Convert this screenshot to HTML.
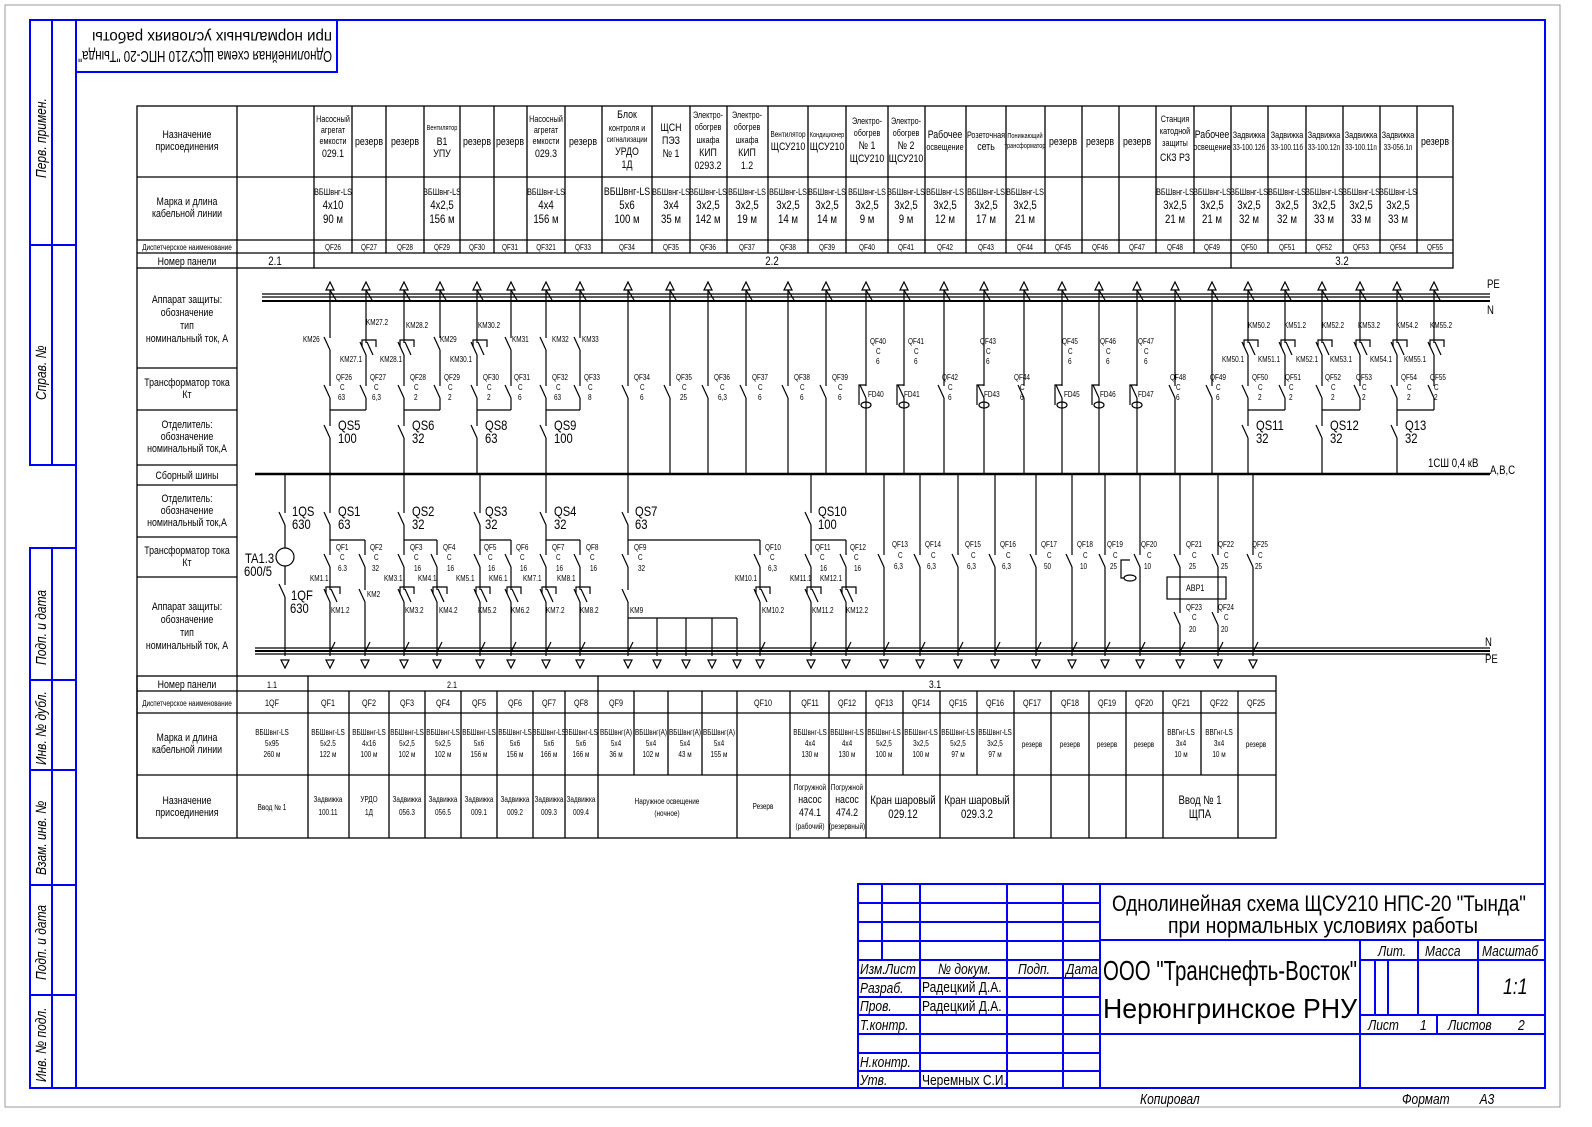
<!DOCTYPE html>
<html><head><meta charset="utf-8"><style>
html,body{margin:0;padding:0;background:#fff}
svg{display:block}
text{font-family:"Liberation Sans",sans-serif;fill:#000}
.c{text-anchor:middle}
.bl{stroke:#0000ff;stroke-width:2;fill:none}
</style></head><body>
<svg id="sv" width="1592" height="1127" viewBox="0 0 1592 1127" xmlns="http://www.w3.org/2000/svg">
<rect width="1592" height="1127" fill="#fff"/>
<rect x="5" y="5" width="1555" height="1102" fill="none" stroke="#999" stroke-width="1"/>
<rect class="bl" x="76" y="20" width="1469" height="1068"/>
<rect class="bl" x="30" y="20" width="46" height="445"/>
<rect class="bl" x="30" y="548" width="46" height="540"/>
<path class="bl" d="M52 20V465M52 548V1088M30 245H76M30 680H76M30 770H76M30 885H76M30 995H76"/>
<rect class="bl" x="76" y="20" width="261" height="52"/>
<g font-style="italic" font-size="15">
<text transform="translate(46,178) rotate(-90)">Перв. примен.</text>
<text transform="translate(46,400) rotate(-90)">Справ. №</text>
<text transform="translate(46,665) rotate(-90)">Подп. и дата</text>
<text transform="translate(46,765) rotate(-90)">Инв. № дубл.</text>
<text transform="translate(46,875) rotate(-90)">Взам. инв. №</text>
<text transform="translate(46,980) rotate(-90)">Подп. и дата</text>
<text transform="translate(46,1082) rotate(-90)">Инв. № подл.</text>
</g>
<g transform="rotate(180,206,46)" font-size="16">
<text x="80" y="41" textLength="254" lengthAdjust="spacingAndGlyphs">Однолинейная схема ЩСУ210 НПС-20 "Тында"</text>
<text x="80" y="60" textLength="240" lengthAdjust="spacingAndGlyphs">при нормальных условиях работы</text>
</g>
<text x="1140" y="1104" font-size="15" font-style="italic">Копировал</text>
<text x="1402" y="1104" font-size="15" font-style="italic">Формат&#160;&#160;&#160;&#160;&#160;&#160;&#160;&#160;&#160;А3</text>

<g class="bl">
<rect x="858" y="884" width="687" height="204"/>
<path d="M882 884V960M920 884V1088M1007 884V1088M1063 884V1088M1100 884V1088M858 903H1100M858 922H1100M858 941H1100M858 960H1100M858 978H1100M858 997H1100M858 1015H1100M858 1034H1100M858 1053H1100M858 1071H1100"/>
<path d="M1100 940H1545M1360 940V1088M1100 1034H1545M1360 960H1545M1360 1015H1545M1418 940V1015M1478 940V1015M1437 1015V1034M1375 960V1015M1388 960V1015"/>
</g>
<g font-style="italic" font-size="15">
<text x="860" y="974">Изм.</text><text x="885" y="974">Лист</text><text x="938" y="974">№ докум.</text><text x="1018" y="974">Подп.</text><text x="1066" y="974">Дата</text>
<text x="860" y="993">Разраб.</text><text x="860" y="1011">Пров.</text><text x="860" y="1030">Т.контр.</text>
<text x="860" y="1067">Н.контр.</text><text x="860" y="1085">Утв.</text>
<text x="1378" y="956">Лит.</text><text x="1425" y="956">Масса</text><text x="1482" y="956">Масштаб</text>
<text x="1368" y="1030">Лист</text><text x="1420" y="1030">1</text><text x="1448" y="1030">Листов</text><text x="1518" y="1030">2</text>
<text x="1503" y="994" font-size="22">1:1</text>
</g>
<g font-size="15"><text x="922" y="1011">Радецкий Д.А.</text><text x="922" y="992">Радецкий Д.А.</text><text x="922" y="1085">Черемных С.И.</text></g>
<text x="1112" y="911" font-size="22" textLength="414" lengthAdjust="spacingAndGlyphs">Однолинейная схема ЩСУ210 НПС-20 "Тында"</text>
<text x="1168" y="933" font-size="22" textLength="310" lengthAdjust="spacingAndGlyphs">при нормальных условиях работы</text>
<text x="1103" y="980" font-size="28" textLength="254" lengthAdjust="spacingAndGlyphs">ООО "Транснефть-Восток"</text>
<text x="1103" y="1018" font-size="28" textLength="254" lengthAdjust="spacingAndGlyphs">Нерюнгринское РНУ</text>

<g id="tb" stroke="#000" stroke-width="1.3" fill="none"></g>
<g id="g" stroke="#000" stroke-width="1.2" fill="none"></g>

<g font-size="11" class="c">
<text x="187" y="138">Назначение</text><text x="187" y="150">присоединения</text>
<text x="187" y="205">Марка и длина</text><text x="187" y="217">кабельной линии</text>
<text x="187" y="250" font-size="8">Диспетчерское наименование</text>
<text x="187" y="265">Номер панели</text>
<text x="187" y="303">Аппарат защиты:</text><text x="187" y="316">обозначение</text><text x="187" y="329">тип</text><text x="187" y="342">номинальный ток, А</text>
<text x="187" y="386">Трансформатор тока</text><text x="187" y="398">Кт</text>
<text x="187" y="428">Отделитель:</text><text x="187" y="440">обозначение</text><text x="187" y="452">номинальный ток,А</text>
<text x="187" y="479">Сборный шины</text>
<text x="187" y="502">Отделитель:</text><text x="187" y="514">обозначение</text><text x="187" y="526">номинальный ток,А</text>
<text x="187" y="554">Трансформатор тока</text><text x="187" y="566">Кт</text>
<text x="187" y="610">Аппарат защиты:</text><text x="187" y="623">обозначение</text><text x="187" y="636">тип</text><text x="187" y="649">номинальный ток, А</text>
<text x="187" y="688">Номер панели</text>
<text x="187" y="706" font-size="8">Диспетчерское наименование</text>
<text x="187" y="741">Марка и длина</text><text x="187" y="753">кабельной линии</text>
<text x="187" y="804">Назначение</text><text x="187" y="816">присоединения</text>
</g>

<g font-size="9" class="c">
<text x="333" y="122">Насосный</text><text x="333" y="133">агрегат</text><text x="333" y="144">емкости</text><text x="333" y="157" font-size="11">029.1</text>
<text x="369" y="145" font-size="11">резерв</text><text x="405" y="145" font-size="11">резерв</text>
<text x="442" y="130" font-size="7">Вентилятор</text><text x="442" y="145" font-size="11">В1</text><text x="442" y="157" font-size="11">УПУ</text>
<text x="477" y="145" font-size="11">резерв</text><text x="510" y="145" font-size="11">резерв</text>
<text x="546" y="122">Насосный</text><text x="546" y="133">агрегат</text><text x="546" y="144">емкости</text><text x="546" y="157" font-size="11">029.3</text>
<text x="583" y="145" font-size="11">резерв</text>
<text x="627" y="118" font-size="11">Блок</text><text x="627" y="131">контроля и</text><text x="627" y="142" font-size="8">сигнализации</text><text x="627" y="155" font-size="11">УРДО</text><text x="627" y="168" font-size="11">1Д</text>
<text x="671" y="131" font-size="11">ЩСН</text><text x="671" y="144" font-size="11">ПЭЗ</text><text x="671" y="157" font-size="11">№ 1</text>
<text x="708" y="118">Электро-</text><text x="708" y="130">обогрев</text><text x="708" y="143">шкафа</text><text x="708" y="156" font-size="11">КИП</text><text x="708" y="169" font-size="11">0293.2</text>
<text x="747" y="118">Электро-</text><text x="747" y="130">обогрев</text><text x="747" y="143">шкафа</text><text x="747" y="156" font-size="11">КИП</text><text x="747" y="169" font-size="11">1.2</text>
<text x="788" y="137" font-size="8">Вентилятор</text><text x="788" y="150" font-size="11">ЩСУ210</text>
<text x="827" y="137" font-size="7">Кондиционер</text><text x="827" y="150" font-size="11">ЩСУ210</text>
<text x="867" y="124">Электро-</text><text x="867" y="136">обогрев</text><text x="867" y="149" font-size="11">№ 1</text><text x="867" y="162" font-size="11">ЩСУ210</text>
<text x="906" y="124">Электро-</text><text x="906" y="136">обогрев</text><text x="906" y="149" font-size="11">№ 2</text><text x="906" y="162" font-size="11">ЩСУ210</text>
<text x="945" y="138" font-size="11">Рабочее</text><text x="945" y="150">освещение</text>
<text x="986" y="138">Розеточная</text><text x="986" y="150" font-size="11">сеть</text>
<text x="1025" y="138" font-size="7">Понижающий</text><text x="1025" y="148" font-size="7">трансформатор</text>
<text x="1063" y="145" font-size="11">резерв</text><text x="1100" y="145" font-size="11">резерв</text><text x="1137" y="145" font-size="11">резерв</text>
<text x="1175" y="122">Станция</text><text x="1175" y="134">катодной</text><text x="1175" y="146">защиты</text><text x="1175" y="161" font-size="11">СКЗ РЗ</text>
<text x="1212" y="138" font-size="11">Рабочее</text><text x="1212" y="150">освещение</text>
<text x="1249" y="138">Задвижка</text><text x="1249" y="150" font-size="8">33-100.12б</text>
<text x="1287" y="138">Задвижка</text><text x="1287" y="150" font-size="8">33-100.11б</text>
<text x="1324" y="138">Задвижка</text><text x="1324" y="150" font-size="8">33-100.12п</text>
<text x="1361" y="138">Задвижка</text><text x="1361" y="150" font-size="8">33-100.11п</text>
<text x="1398" y="138">Задвижка</text><text x="1398" y="150" font-size="8">33-056.1п</text>
<text x="1435" y="145" font-size="11">резерв</text>
</g>
<g font-size="9" class="c">
<g font-size="12">
<text x="333" y="209">4x10</text><text x="333" y="223">90 м</text>
<text x="442" y="209">4x2,5</text><text x="442" y="223">156 м</text>
<text x="546" y="209">4x4</text><text x="546" y="223">156 м</text>
<text x="627" y="209">5x6</text><text x="627" y="223">100 м</text>
<text x="671" y="209">3x4</text><text x="671" y="223">35 м</text>
<text x="708" y="209">3x2,5</text><text x="708" y="223">142 м</text>
<text x="747" y="209">3x2,5</text><text x="747" y="223">19 м</text>
<text x="788" y="209">3x2,5</text><text x="788" y="223">14 м</text>
<text x="827" y="209">3x2,5</text><text x="827" y="223">14 м</text>
<text x="867" y="209">3x2,5</text><text x="867" y="223">9 м</text>
<text x="906" y="209">3x2,5</text><text x="906" y="223">9 м</text>
<text x="945" y="209">3x2,5</text><text x="945" y="223">12 м</text>
<text x="986" y="209">3x2,5</text><text x="986" y="223">17 м</text>
<text x="1025" y="209">3x2,5</text><text x="1025" y="223">21 м</text>
<text x="1175" y="209">3x2,5</text><text x="1175" y="223">21 м</text>
<text x="1212" y="209">3x2,5</text><text x="1212" y="223">21 м</text>
<text x="1249" y="209">3x2,5</text><text x="1249" y="223">32 м</text>
<text x="1287" y="209">3x2,5</text><text x="1287" y="223">32 м</text>
<text x="1324" y="209">3x2,5</text><text x="1324" y="223">33 м</text>
<text x="1361" y="209">3x2,5</text><text x="1361" y="223">33 м</text>
<text x="1398" y="209">3x2,5</text><text x="1398" y="223">33 м</text>
</g>
<text x="333" y="195">ВБШвнг-LS</text><text x="442" y="195">ВБШвнг-LS</text><text x="546" y="195">ВБШвнг-LS</text><text x="627" y="195" font-size="11">ВБШвнг-LS</text><text x="671" y="195">ВБШвнг-LS</text><text x="708" y="195">ВБШвнг-LS</text><text x="747" y="195">ВБШвнг-LS</text><text x="788" y="195">ВБШвнг-LS</text><text x="827" y="195">ВБШвнг-LS</text><text x="867" y="195">ВБШвнг-LS</text><text x="906" y="195">ВБШвнг-LS</text><text x="945" y="195">ВБШвнг-LS</text><text x="986" y="195">ВБШвнг-LS</text><text x="1025" y="195">ВБШвнг-LS</text><text x="1175" y="195">ВБШвнг-LS</text><text x="1212" y="195">ВБШвнг-LS</text><text x="1249" y="195">ВБШвнг-LS</text><text x="1287" y="195">ВБШвнг-LS</text><text x="1324" y="195">ВБШвнг-LS</text><text x="1361" y="195">ВБШвнг-LS</text><text x="1398" y="195">ВБШвнг-LS</text>
</g>
<g class="c" font-size="8">
<text x="333" y="250">QF26</text><text x="369" y="250">QF27</text><text x="405" y="250">QF28</text><text x="442" y="250">QF29</text><text x="477" y="250">QF30</text><text x="510" y="250">QF31</text><text x="546" y="250">QF321</text><text x="583" y="250">QF33</text><text x="627" y="250">QF34</text><text x="671" y="250">QF35</text><text x="708" y="250">QF36</text><text x="747" y="250">QF37</text><text x="788" y="250">QF38</text><text x="827" y="250">QF39</text><text x="867" y="250">QF40</text><text x="906" y="250">QF41</text><text x="945" y="250">QF42</text><text x="986" y="250">QF43</text><text x="1025" y="250">QF44</text><text x="1063" y="250">QF45</text><text x="1100" y="250">QF46</text><text x="1137" y="250">QF47</text><text x="1175" y="250">QF48</text><text x="1212" y="250">QF49</text><text x="1249" y="250">QF50</text><text x="1287" y="250">QF51</text><text x="1324" y="250">QF52</text><text x="1361" y="250">QF53</text><text x="1398" y="250">QF54</text><text x="1435" y="250">QF55</text>
</g>
<g font-size="12" class="c"><text x="275" y="265">2.1</text><text x="772" y="265">2.2</text><text x="1342" y="265">3.2</text></g>

<g class="c" font-size="9">
<text x="272" y="688">1.1</text><text x="452" y="688">2.1</text><text x="935" y="688" font-size="11">3.1</text>
<text x="272" y="706">1QF</text><text x="328" y="706">QF1</text><text x="369" y="706">QF2</text><text x="407" y="706">QF3</text><text x="443" y="706">QF4</text><text x="479" y="706">QF5</text><text x="515" y="706">QF6</text><text x="549" y="706">QF7</text><text x="581" y="706">QF8</text><text x="616" y="706">QF9</text><text x="763" y="706">QF10</text><text x="810" y="706">QF11</text><text x="847" y="706">QF12</text><text x="884" y="706">QF13</text><text x="921" y="706">QF14</text><text x="958" y="706">QF15</text><text x="995" y="706">QF16</text><text x="1032" y="706">QF17</text><text x="1070" y="706">QF18</text><text x="1107" y="706">QF19</text><text x="1144" y="706">QF20</text><text x="1181" y="706">QF21</text><text x="1219" y="706">QF22</text><text x="1256" y="706">QF25</text>
</g>
<g class="c" font-size="8">
<text x="272" y="735">ВБШвнг-LS</text><text x="272" y="746">5х95</text><text x="272" y="757">260 м</text>
<text x="328" y="735">ВБШвнг-LS</text><text x="328" y="746">5х2.5</text><text x="328" y="757">122 м</text>
<text x="369" y="735">ВБШвнг-LS</text><text x="369" y="746">4х16</text><text x="369" y="757">100 м</text>
<text x="407" y="735">ВБШвнг-LS</text><text x="407" y="746">5х2,5</text><text x="407" y="757">102 м</text>
<text x="443" y="735">ВБШвнг-LS</text><text x="443" y="746">5х2,5</text><text x="443" y="757">102 м</text>
<text x="479" y="735">ВБШвнг-LS</text><text x="479" y="746">5х6</text><text x="479" y="757">156 м</text>
<text x="515" y="735">ВБШвнг-LS</text><text x="515" y="746">5х6</text><text x="515" y="757">156 м</text>
<text x="549" y="735">ВБШвнг-LS</text><text x="549" y="746">5х6</text><text x="549" y="757">166 м</text>
<text x="581" y="735">ВБШвнг-LS</text><text x="581" y="746">5х6</text><text x="581" y="757">166 м</text>
<text x="616" y="735">ВБШвнг(А)</text><text x="616" y="746">5х4</text><text x="616" y="757">36 м</text>
<text x="651" y="735">ВБШвнг(А)</text><text x="651" y="746">5х4</text><text x="651" y="757">102 м</text>
<text x="685" y="735">ВБШвнг(А)</text><text x="685" y="746">5х4</text><text x="685" y="757">43 м</text>
<text x="719" y="735">ВБШвнг(А)</text><text x="719" y="746">5х4</text><text x="719" y="757">155 м</text>
<text x="810" y="735">ВБШвнг-LS</text><text x="810" y="746">4х4</text><text x="810" y="757">130 м</text>
<text x="847" y="735">ВБШвнг-LS</text><text x="847" y="746">4х4</text><text x="847" y="757">130 м</text>
<text x="884" y="735">ВБШвнг-LS</text><text x="884" y="746">5х2,5</text><text x="884" y="757">100 м</text>
<text x="921" y="735">ВБШвнг-LS</text><text x="921" y="746">3х2,5</text><text x="921" y="757">100 м</text>
<text x="958" y="735">ВБШвнг-LS</text><text x="958" y="746">5х2,5</text><text x="958" y="757">97 м</text>
<text x="995" y="735">ВБШвнг-LS</text><text x="995" y="746">3х2,5</text><text x="995" y="757">97 м</text>
<text x="1032" y="747">резерв</text><text x="1070" y="747">резерв</text><text x="1107" y="747">резерв</text><text x="1144" y="747">резерв</text>
<text x="1181" y="735">ВВГнг-LS</text><text x="1181" y="746">3х4</text><text x="1181" y="757">10 м</text>
<text x="1219" y="735">ВВГнг-LS</text><text x="1219" y="746">3х4</text><text x="1219" y="757">10 м</text>
<text x="1256" y="747">резерв</text>
<text x="272" y="810">Ввод № 1</text>
<text x="328" y="802">Задвижка</text><text x="328" y="815">100.11</text>
<text x="369" y="802">УРДО</text><text x="369" y="815">1Д</text>
<text x="407" y="802">Задвижка</text><text x="407" y="815">056.3</text>
<text x="443" y="802">Задвижка</text><text x="443" y="815">056.5</text>
<text x="479" y="802">Задвижка</text><text x="479" y="815">009.1</text>
<text x="515" y="802">Задвижка</text><text x="515" y="815">009.2</text>
<text x="549" y="802">Задвижка</text><text x="549" y="815">009.3</text>
<text x="581" y="802">Задвижка</text><text x="581" y="815">009.4</text>
<text x="667" y="804">Наружное освещение</text><text x="667" y="816">(ночное)</text>
<text x="763" y="809">Резерв</text>
<text x="810" y="790">Погружной</text><text x="810" y="803" font-size="11">насос</text><text x="810" y="816" font-size="11">474.1</text><text x="810" y="829">(рабочий)</text>
<text x="847" y="790">Погружной</text><text x="847" y="803" font-size="11">насос</text><text x="847" y="816" font-size="11">474.2</text><text x="847" y="829">(резервный)</text>
<text x="903" y="804" font-size="12">Кран шаровый</text><text x="903" y="818" font-size="12">029.12</text>
<text x="977" y="804" font-size="12">Кран шаровый</text><text x="977" y="818" font-size="12">029.3.2</text>
<text x="1200" y="804" font-size="12">Ввод № 1</text><text x="1200" y="818" font-size="12">ЩПА</text>
</g>

<g font-size="12"><text x="1487" y="288">PE</text><text x="1487" y="314">N</text><text x="1428" y="467">1СШ 0,4 кВ</text><text x="1490" y="474">А,В,С</text>
<text x="1485" y="646">N</text><text x="1485" y="663">PE</text></g>

<g font-size="14">
<text x="338" y="430">QS5</text><text x="338" y="443">100</text>
<text x="412" y="430">QS6</text><text x="412" y="443">32</text>
<text x="485" y="430">QS8</text><text x="485" y="443">63</text>
<text x="554" y="430">QS9</text><text x="554" y="443">100</text>
<text x="1256" y="430">QS11</text><text x="1256" y="443">32</text>
<text x="1330" y="430">QS12</text><text x="1330" y="443">32</text>
<text x="1405" y="430">Q13</text><text x="1405" y="443">32</text>
<text x="292" y="516">1QS</text><text x="292" y="529">630</text>
<text x="338" y="516">QS1</text><text x="338" y="529">63</text>
<text x="412" y="516">QS2</text><text x="412" y="529">32</text>
<text x="485" y="516">QS3</text><text x="485" y="529">32</text>
<text x="554" y="516">QS4</text><text x="554" y="529">32</text>
<text x="635" y="516">QS7</text><text x="635" y="529">63</text>
<text x="818" y="516">QS10</text><text x="818" y="529">100</text>
<text x="245" y="563">TA1.3</text><text x="244" y="576">600/5</text>
<text x="291" y="600">1QF</text><text x="290" y="613">630</text>
<text x="1186" y="591" font-size="9">АВР1</text>
</g>

<g font-size="8">
<text x="336" y="380">QF26</text><text x="340" y="390">C</text><text x="338" y="400">63</text>
<text x="370" y="380">QF27</text><text x="374" y="390">C</text><text x="372" y="400">6,3</text>
<text x="410" y="380">QF28</text><text x="414" y="390">C</text><text x="414" y="400">2</text>
<text x="444" y="380">QF29</text><text x="448" y="390">C</text><text x="448" y="400">2</text>
<text x="483" y="380">QF30</text><text x="487" y="390">C</text><text x="487" y="400">2</text>
<text x="514" y="380">QF31</text><text x="518" y="390">C</text><text x="518" y="400">6</text>
<text x="552" y="380">QF32</text><text x="556" y="390">C</text><text x="554" y="400">63</text>
<text x="584" y="380">QF33</text><text x="588" y="390">C</text><text x="588" y="400">8</text>
<text x="634" y="380">QF34</text><text x="640" y="390">C</text><text x="640" y="400">6</text>
<text x="676" y="380">QF35</text><text x="682" y="390">C</text><text x="680" y="400">25</text>
<text x="714" y="380">QF36</text><text x="720" y="390">C</text><text x="718" y="400">6,3</text>
<text x="752" y="380">QF37</text><text x="758" y="390">C</text><text x="758" y="400">6</text>
<text x="794" y="380">QF38</text><text x="800" y="390">C</text><text x="800" y="400">6</text>
<text x="832" y="380">QF39</text><text x="838" y="390">C</text><text x="838" y="400">6</text>
<text x="870" y="344">QF40</text><text x="876" y="354">C</text><text x="876" y="364">6</text>
<text x="908" y="344">QF41</text><text x="914" y="354">C</text><text x="914" y="364">6</text>
<text x="942" y="380">QF42</text><text x="948" y="390">C</text><text x="948" y="400">6</text>
<text x="980" y="344">QF43</text><text x="986" y="354">C</text><text x="986" y="364">6</text>
<text x="1014" y="380">QF44</text><text x="1020" y="390">C</text><text x="1020" y="400">6</text>
<text x="1062" y="344">QF45</text><text x="1068" y="354">C</text><text x="1068" y="364">6</text>
<text x="1100" y="344">QF46</text><text x="1106" y="354">C</text><text x="1106" y="364">6</text>
<text x="1138" y="344">QF47</text><text x="1144" y="354">C</text><text x="1144" y="364">6</text>
<text x="868" y="397">FD40</text><text x="904" y="397">FD41</text><text x="984" y="397">FD43</text><text x="1064" y="397">FD45</text><text x="1100" y="397">FD46</text><text x="1138" y="397">FD47</text>
<text x="1170" y="380">QF48</text><text x="1176" y="390">C</text><text x="1176" y="400">6</text>
<text x="1210" y="380">QF49</text><text x="1216" y="390">C</text><text x="1216" y="400">6</text>
<text x="1252" y="380">QF50</text><text x="1258" y="390">C</text><text x="1258" y="400">2</text>
<text x="1285" y="380">QF51</text><text x="1289" y="390">C</text><text x="1289" y="400">2</text>
<text x="1325" y="380">QF52</text><text x="1331" y="390">C</text><text x="1331" y="400">2</text>
<text x="1356" y="380">QF53</text><text x="1362" y="390">C</text><text x="1362" y="400">2</text>
<text x="1401" y="380">QF54</text><text x="1407" y="390">C</text><text x="1407" y="400">2</text>
<text x="1430" y="380">QF55</text><text x="1434" y="390">C</text><text x="1434" y="400">2</text>
<text x="303" y="342">KM26</text><text x="366" y="325">KM27.2</text><text x="340" y="362">KM27.1</text>
<text x="406" y="328">KM28.2</text><text x="380" y="362">KM28.1</text><text x="440" y="342">KM29</text>
<text x="478" y="328">KM30.2</text><text x="450" y="362">KM30.1</text><text x="512" y="342">KM31</text>
<text x="552" y="342">KM32</text><text x="582" y="342">KM33</text>
<text x="1248" y="328">KM50.2</text><text x="1222" y="362">KM50.1</text><text x="1284" y="328">KM51.2</text><text x="1258" y="362">KM51.1</text>
<text x="1322" y="328">KM52.2</text><text x="1296" y="362">KM52.1</text><text x="1358" y="328">KM53.2</text><text x="1330" y="362">KM53.1</text>
<text x="1396" y="328">KM54.2</text><text x="1370" y="362">KM54.1</text><text x="1430" y="328">KM55.2</text><text x="1404" y="362">KM55.1</text>
<text x="336" y="550">QF1</text><text x="340" y="560">C</text><text x="338" y="571">6.3</text>
<text x="370" y="550">QF2</text><text x="374" y="560">C</text><text x="372" y="571">32</text>
<text x="410" y="550">QF3</text><text x="414" y="560">C</text><text x="414" y="571">16</text>
<text x="443" y="550">QF4</text><text x="447" y="560">C</text><text x="447" y="571">16</text>
<text x="484" y="550">QF5</text><text x="488" y="560">C</text><text x="488" y="571">16</text>
<text x="516" y="550">QF6</text><text x="520" y="560">C</text><text x="520" y="571">16</text>
<text x="552" y="550">QF7</text><text x="556" y="560">C</text><text x="556" y="571">16</text>
<text x="586" y="550">QF8</text><text x="590" y="560">C</text><text x="590" y="571">16</text>
<text x="634" y="550">QF9</text><text x="638" y="560">C</text><text x="638" y="571">32</text>
<text x="765" y="550">QF10</text><text x="770" y="560">C</text><text x="768" y="571">6,3</text>
<text x="815" y="550">QF11</text><text x="820" y="560">C</text><text x="820" y="571">16</text>
<text x="850" y="550">QF12</text><text x="854" y="560">C</text><text x="854" y="571">16</text>
<text x="892" y="547">QF13</text><text x="898" y="558">C</text><text x="894" y="569">6,3</text>
<text x="925" y="547">QF14</text><text x="931" y="558">C</text><text x="927" y="569">6,3</text>
<text x="965" y="547">QF15</text><text x="971" y="558">C</text><text x="967" y="569">6,3</text>
<text x="1000" y="547">QF16</text><text x="1006" y="558">C</text><text x="1002" y="569">6,3</text>
<text x="1041" y="547">QF17</text><text x="1047" y="558">C</text><text x="1044" y="569">50</text>
<text x="1077" y="547">QF18</text><text x="1083" y="558">C</text><text x="1080" y="569">10</text>
<text x="1107" y="547">QF19</text><text x="1113" y="558">C</text><text x="1110" y="569">25</text>
<text x="1141" y="547">QF20</text><text x="1147" y="558">C</text><text x="1144" y="569">10</text>
<text x="1186" y="547">QF21</text><text x="1192" y="558">C</text><text x="1189" y="569">25</text>
<text x="1218" y="547">QF22</text><text x="1224" y="558">C</text><text x="1221" y="569">25</text>
<text x="1252" y="547">QF25</text><text x="1258" y="558">C</text><text x="1255" y="569">25</text>
<text x="1186" y="610">QF23</text><text x="1192" y="620">C</text><text x="1189" y="632">20</text>
<text x="1218" y="610">QF24</text><text x="1224" y="620">C</text><text x="1221" y="632">20</text>
<text x="310" y="581">KM1.1</text><text x="331" y="613">KM1.2</text><text x="367" y="597">KM2</text>
<text x="384" y="581">KM3.1</text><text x="405" y="613">KM3.2</text><text x="418" y="581">KM4.1</text><text x="439" y="613">KM4.2</text>
<text x="456" y="581">KM5.1</text><text x="478" y="613">KM5.2</text><text x="489" y="581">KM6.1</text><text x="511" y="613">KM6.2</text>
<text x="523" y="581">KM7.1</text><text x="546" y="613">KM7.2</text><text x="557" y="581">KM8.1</text><text x="580" y="613">KM8.2</text>
<text x="630" y="613">KM9</text><text x="735" y="581">KM10.1</text><text x="762" y="613">KM10.2</text>
<text x="790" y="581">KM11.1</text><text x="812" y="613">KM11.2</text><text x="820" y="581">KM12.1</text><text x="846" y="613">KM12.2</text>
</g>
</svg>
<script>
var NS="http://www.w3.org/2000/svg",tb=document.getElementById('tb'),g=document.getElementById('g');
function L(p,x1,y1,x2,y2,w){var e=document.createElementNS(NS,'line');e.setAttribute('x1',x1);e.setAttribute('y1',y1);e.setAttribute('x2',x2);e.setAttribute('y2',y2);if(w)e.setAttribute('stroke-width',w);p.appendChild(e);return e;}
function P(p,d,f){var e=document.createElementNS(NS,'path');e.setAttribute('d',d);if(f)e.setAttribute('fill',f);p.appendChild(e);}
function R(p,x,y,w,h){var e=document.createElementNS(NS,'rect');e.setAttribute('x',x);e.setAttribute('y',y);e.setAttribute('width',w);e.setAttribute('height',h);p.appendChild(e);}
R(tb,137,106,1316,162);
[177,240,253].forEach(function(y){L(tb,137,y,1453,y);});
var tc=[237,314,352,386,424,460,494,527,565,602,652,690,727,768,808,846,888,925,966,1006,1045,1082,1119,1156,1194,1231,1268,1306,1343,1380,1417];
tc.forEach(function(x){L(tb,x,106,x,253);});
L(tb,237,253,237,268);L(tb,314,253,314,268);L(tb,1231,253,1231,268);
L(tb,137,268,137,838);L(tb,237,268,237,838);
[368,410,465,485,537,577].forEach(function(y){L(tb,137,y,237,y);});
R(tb,137,676,1139,162);
[691,713,775].forEach(function(y){L(tb,137,y,1276,y);});
L(tb,308,676,308,838);L(tb,598,676,598,838);
var bc=[349,389,425,461,497,533,565,634,668,702,737,790,829,866,903,940,977,1014,1051,1089,1126,1163,1201,1238];
bc.forEach(function(x){if(x==1201||x==903||x==977||x==634||x==668||x==702){L(tb,x,691,x,775);return;}L(tb,x,691,x,838);});
L(g,262,294,1490,294);L(g,262,297,1490,297);L(g,262,301,1490,301,2);
L(g,255,474,1490,474,2.5);
L(g,255,648,1490,648);L(g,255,651,1490,651,2);L(g,255,654,1490,654);
function sw(x,y){var r=document.createElementNS(NS,'rect');r.setAttribute('x',x-2);r.setAttribute('y',y-12);r.setAttribute('width',4);r.setAttribute('height',12);r.setAttribute('fill','#fff');r.setAttribute('stroke','none');g.appendChild(r);L(g,x,y,x-6,y-13);}
function km(x,y){sw(x,y);L(g,x+7,y,x+1,y-13);P(g,'M'+(x-4)+' '+(y-8)+'V'+(y-15)+'H'+(x+10)+'V'+(y-8));}
function upA(x,y){P(g,'M'+(x-4)+' '+(y+8)+'L'+x+' '+y+'L'+(x+4)+' '+(y+8)+'Z','#fff');}
function dnA(x,y){P(g,'M'+(x-4)+' '+y+'L'+x+' '+(y+8)+'L'+(x+4)+' '+y+'Z','#fff');}
var tf=[330,366,404,440,477,511,546,580,628,670,708,746,788,826,866,904,944,984,1024,1062,1099,1137,1175,1212,1248,1285,1322,1360,1397,1434];
var boxK=[366,404,477,1248,1285,1322,1360,1397,1434],simK=[330,440,511,546,580];
var rcd=[866,904,984,1062,1099,1137];
var pairs=[[330,366],[404,440],[477,511],[546,580],[1248,1285],[1322,1360],[1397,1434]];
tf.forEach(function(x){
 var bot=474;
 pairs.forEach(function(p){if(p[1]==x){bot=410;}});
 L(g,x,290,x,bot);upA(x,282);L(g,x,290,x+6,300);
 sw(x,398);
 if(boxK.indexOf(x)>=0)km(x,355);
 if(simK.indexOf(x)>=0)sw(x,350);
 if(rcd.indexOf(x)>=0){P(g,'M'+(x-5)+' 405a5 3 0 1 0 10 0a5 3 0 1 0 -10 0');P(g,'M'+x+' 385H'+(x-7)+'V405');}
});
pairs.forEach(function(p){L(g,p[0],410,p[1],410);sw(p[0],438);});
var lf=[330,365,404,437,480,511,546,580,628,760,811,846,884,920,958,995,1036,1072,1105,1140,1180,1218,1253];
var lp=[[330,365],[404,437],[480,511],[546,580],[628,760],[811,846]];
var qsL=[330,404,480,546,628,811];
lf.forEach(function(x){
 var top=474;lp.forEach(function(p){if(p[1]==x)top=540;});
 L(g,x,top,x,656);dnA(x,660);L(g,x,652,x+5,642);
 sw(x,567);
 if([330,404,437,480,511,546,580,760,811,846].indexOf(x)>=0)km(x,602);
 if(x==365||x==628)sw(x,602);
});
lp.forEach(function(p){L(g,p[0],540,p[1],540);});
qsL.forEach(function(x){sw(x,525);});
L(g,285,474,285,656);dnA(285,660);sw(285,525);sw(285,597);
var c=document.createElementNS(NS,'circle');c.setAttribute('cx',285);c.setAttribute('cy',557);c.setAttribute('r',9);c.setAttribute('fill','#fff');g.appendChild(c);
L(g,628,618,737,618);[657,686,712,737].forEach(function(x){L(g,x,618,x,656);dnA(x,660);});
P(g,'M1124 578a6 3 0 1 0 12 0a6 3 0 1 0 -12 0M1130 560H1121V578H1124');
R(g,1167,577,59,22);
[1180,1218].forEach(function(x){sw(x,625);});
// emulate narrow CAD font
var ts=document.querySelectorAll('#sv text');
for(var i=0;i<ts.length;i++){var t=ts[i];if(t.hasAttribute('textLength'))continue;var w=t.getComputedTextLength();if(w>0){t.setAttribute('textLength',(w*0.8).toFixed(1));t.setAttribute('lengthAdjust','spacingAndGlyphs');}}
</script>
</body></html>
